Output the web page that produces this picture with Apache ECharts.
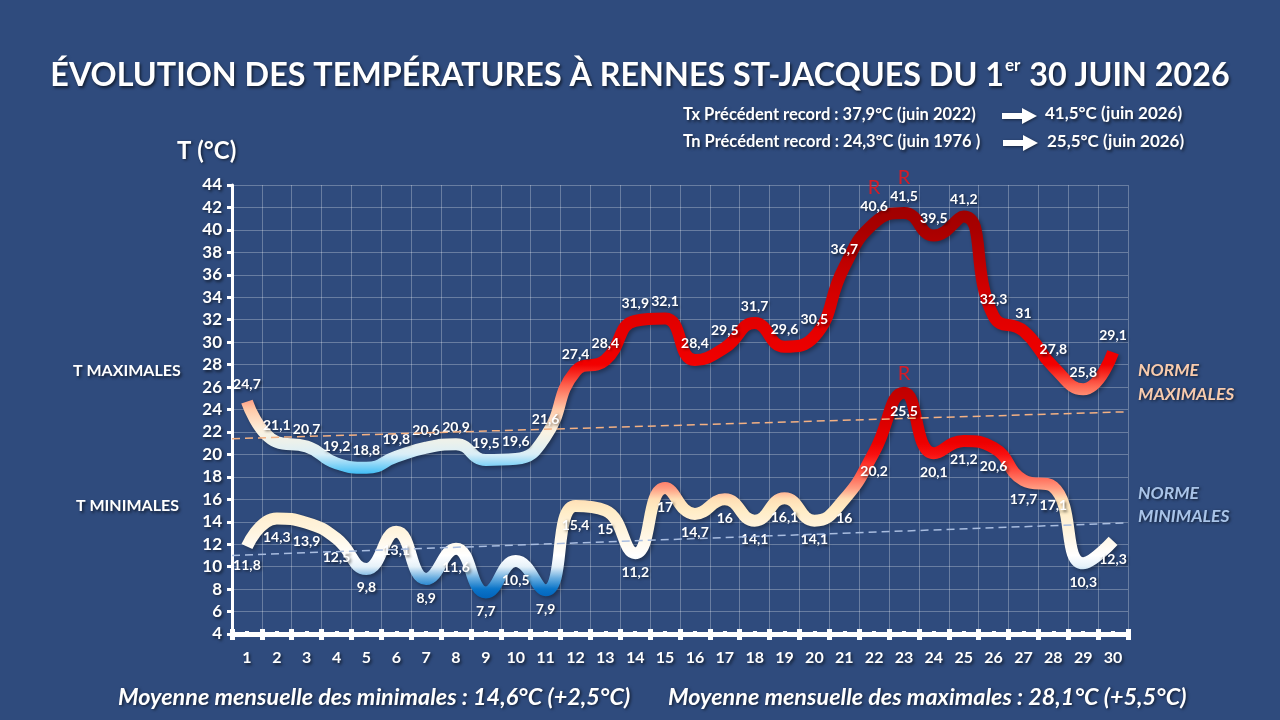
<!DOCTYPE html>
<html><head><meta charset="utf-8">
<script src="https://cdn.jsdelivr.net/npm/echarts@6/dist/echarts.min.js"></script>
<style>html,body{margin:0;padding:0;background:#2f4b7d}#c{width:1280px;height:720px}</style>
</head><body><div id="c"></div>
<script>
const days = ['1','2','3','4','5','6','7','8','9','10','11','12','13','14','15','16','17','18','19','20','21','22','23','24','25','26','27','28','29','30'];
const tmax = [24.7,21.1,20.7,19.2,18.8,19.8,20.6,20.9,19.5,19.6,21.6,27.4,28.4,31.9,32.1,28.4,29.5,31.7,29.6,30.5,36.7,40.6,41.5,39.5,41.2,32.3,31,27.8,25.8,29.1];
const tmin = [11.8,14.3,13.9,12.5,9.8,13.1,8.9,11.6,7.7,10.5,7.9,15.4,15,11.2,17,14.7,16,14.1,16.1,14.1,16,20.2,25.5,20.1,21.2,20.6,17.7,17.1,10.3,12.3];
const recordTxDays = [22, 23];
const recordTnDays = [23];
const normMax = [21.4, 23.8];
const normMin = [11.0, 13.9];
const yMin = 4, yMax = 44, yStep = 2;

const fmt = v => String(v).replace('.', ',');
const shadow = {textShadowColor:'rgba(0,0,0,0.6)', textShadowBlur:3, textShadowOffsetX:1.5, textShadowOffsetY:1.5};
const F = 'Lato, "Open Sans", sans-serif';

const chart = echarts.init(document.getElementById('c'), null, {renderer:'canvas'});
const arrow = (x, y) => ({
  type:'polygon',
  shape:{points:[[x,y-3],[x+20,y-3],[x+20,y-8],[x+35,y],[x+20,y+8],[x+20,y+3],[x,y+3]]},
  style:{fill:'#fff', shadowColor:'rgba(0,0,0,0.5)', shadowBlur:3, shadowOffsetX:1, shadowOffsetY:1}
});
const txt = (x, y, text, o) => ({
  type:'text', x, y,
  style:Object.assign({text, fill:'#fff', font:'bold 16.5px ' + F, textVerticalAlign:'middle', textAlign:'left',
    textShadowColor:'rgba(0,0,0,0.6)', textShadowBlur:3, textShadowOffsetX:1.5, textShadowOffsetY:1.5}, o || {})
});

chart.setOption({
  backgroundColor:'#2f4b7d',
  animation:false,
  title:{
    text:'{a|ÉVOLUTION DES TEMPÉRATURES À RENNES ST-JACQUES DU 1}{s|er}{a| 30 JUIN 2026}',
    left:'center', top:47,
    textStyle:{
      rich:{
        a:Object.assign({fontFamily:F, fontWeight:'bold', fontSize:32.3, color:'#fff', lineHeight:40, verticalAlign:'bottom'}, shadow),
        s:Object.assign({fontFamily:F, fontWeight:'bold', fontSize:17, color:'#fff', lineHeight:40, verticalAlign:'top', padding:[5,1,0,1]}, shadow)
      }
    }
  },
  grid:{left:232, right:152, top:185, bottom:86, containLabel:false},
  xAxis:[{
    type:'category', data:days, boundaryGap:true,
    axisLine:{show:true, lineStyle:{color:'#fff', width:5}},
    axisTick:{show:true, length:6, lineStyle:{color:'#fff', width:5}},
    axisLabel:Object.assign({color:'#fff', fontFamily:F, fontWeight:'bold', fontSize:16, margin:16}, shadow),
    splitLine:{show:true, lineStyle:{color:'rgba(255,255,255,0.28)', width:1}}
  },{
    type:'value', min:0, max:30, interval:1, position:'bottom',
    axisLine:{show:false},
    axisLabel:{show:false},
    splitLine:{show:false},
    axisTick:{show:true, inside:true, length:5, lineStyle:{color:'#fff', width:5}},
    minorTick:{show:true, splitNumber:2, length:3, lineStyle:{color:'#fff', width:4}}
  }],
  yAxis:{
    type:'value', min:yMin, max:yMax, interval:yStep,
    axisLine:{show:true, lineStyle:{color:'#fff', width:3}},
    axisTick:{show:true, length:5, lineStyle:{color:'#fff', width:3}},
    axisLabel:Object.assign({color:'#fff', fontFamily:F, fontWeight:'bold', fontSize:17, margin:10}, shadow),
    splitLine:{show:true, lineStyle:{color:'rgba(255,255,255,0.28)', width:1}}
  },
  visualMap:[{
    type:'continuous', show:false, seriesIndex:0, dimension:1, min:18, max:42,
    inRange:{color:['#29b6f6','#d9eef7','#fbf3e2','#ffc9a8','#ff6a55','#f20000','#ea0000','#e20000','#d60000','#c80000','#b80000','#a80000','#a00000']}
  },{
    type:'continuous', show:false, seriesIndex:1, dimension:1, min:7, max:26,
    inRange:{color:['#0060b8','#0a74c8','#6aaee0','#e6f1f9','#ffffff','#fffaf0','#fff5e0','#fff1d6','#ffecc6','#ffdfb5','#ff9a80','#ff6a58','#ff3a30','#f81010','#ee0000','#e40000','#da0000','#d00000','#c60000','#c00000']}
  }],
  series:[{
    type:'line', data:tmax, smooth:0.5, symbol:'circle', symbolSize:0, showSymbol:true,
    lineStyle:{width:12, shadowColor:'rgba(0,0,0,0.35)', shadowBlur:4, shadowOffsetX:2, shadowOffsetY:2},
    label:Object.assign({show:true, position:'top', distance:10, color:'#fff', fontFamily:F, fontWeight:'bold', fontSize:14,
      formatter:p => fmt(p.value)}, shadow),
    emphasis:{disabled:true}, z:3
  },{
    type:'line', data:tmin, smooth:0.5, symbol:'circle', symbolSize:0, showSymbol:true,
    lineStyle:{width:12, shadowColor:'rgba(0,0,0,0.35)', shadowBlur:4, shadowOffsetX:2, shadowOffsetY:2},
    label:Object.assign({show:true, position:'bottom', distance:12, color:'#fff', fontFamily:F, fontWeight:'bold', fontSize:14,
      formatter:p => fmt(p.value)}, shadow),
    emphasis:{disabled:true}, z:3
  },{
    type:'line', xAxisIndex:1, data:[[0, normMax[0]], [30, normMax[1]]], symbol:'none',
    lineStyle:{color:'#f4b183', width:1.5, type:[8,5]}, emphasis:{disabled:true}, z:4, silent:true
  },{
    type:'line', xAxisIndex:1, data:[[0, normMin[0]], [30, normMin[1]]], symbol:'none',
    lineStyle:{color:'#a9bde0', width:1.5, type:[8,5]}, emphasis:{disabled:true}, z:4, silent:true
  },{
    type:'scatter', data:recordTxDays.map(d => [d - 1, tmax[d - 1]]), symbolSize:0,
    label:{show:true, position:'top', distance:26, formatter:'R', color:'#ff1010', fontFamily:F, fontSize:20},
    emphasis:{disabled:true}, z:5
  },{
    type:'scatter', data:recordTnDays.map(d => [d - 1, tmin[d - 1]]), symbolSize:0,
    label:{show:true, position:'top', distance:9, formatter:'R', color:'#ff1010', fontFamily:F, fontSize:20},
    emphasis:{disabled:true}, z:5
  }],
  graphic:[
    txt(683, 115, 'Tx Précédent record : 37,9°C (juin 2022)'),
    arrow(1002, 116),
    txt(1045, 114, '41,5°C (juin 2026)', {font:'bold 17px ' + F}),
    txt(683, 142, 'Tn Précédent record : 24,3°C (juin 1976 )'),
    arrow(1003, 143),
    txt(1047, 142, '25,5°C (juin 2026)', {font:'bold 17px ' + F}),
    txt(177, 151, 'T (°C)', {font:'bold 24px ' + F}),
    txt(73, 371, 'T MAXIMALES', {font:'bold 16px ' + F}),
    txt(76, 506, 'T MINIMALES', {font:'bold 16px ' + F}),
    txt(1138, 370, 'NORME', {font:'italic bold 17.5px ' + F, fill:'#f8cbad'}),
    txt(1138, 394, 'MAXIMALES', {font:'italic bold 17.5px ' + F, fill:'#f8cbad'}),
    txt(1138, 493, 'NORME', {font:'italic bold 17.5px ' + F, fill:'#a9c4e8'}),
    txt(1138, 516, 'MINIMALES', {font:'italic bold 17.5px ' + F, fill:'#a9c4e8'}),
    txt(118, 697, 'Moyenne mensuelle des minimales : 14,6°C (+2,5°C)', {font:'italic bold 23.4px ' + F}),
    txt(668, 697, 'Moyenne mensuelle des maximales : 28,1°C (+5,5°C)', {font:'italic bold 23.4px ' + F})
  ]
});
</script></body></html>
